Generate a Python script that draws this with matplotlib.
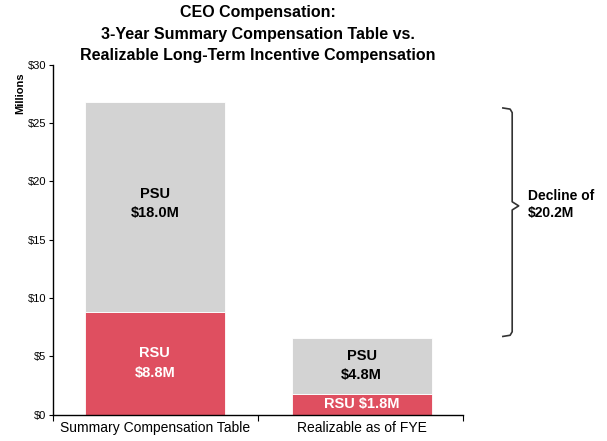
import matplotlib.pyplot as plt
from matplotlib.ticker import FixedLocator

plt.rcParams["font.family"] = ["Liberation Sans", "DejaVu Sans"]

categories = ["Summary Compensation Table", "Realizable as of FYE"]
rsu = [8.8, 1.8]
psu = [18.0, 4.8]
rsu_labels = ["RSU\n$8.8M", "RSU $1.8M"]
psu_labels = ["PSU\n$18.0M", "PSU\n$4.8M"]
yticks = [0, 5, 10, 15, 20, 25, 30]
decline = 20.2

red = "#DF4F60"
grey = "#D3D3D3"

fig = plt.figure(figsize=(6.07, 4.41), dpi=100)
ax = fig.add_axes([0.088, 0.06, 0.675, 0.793])

x = list(range(len(categories)))
width = 0.675
ax.bar(x, rsu, width, color=red, edgecolor="white", linewidth=0.6)
ax.bar(x, psu, width, bottom=rsu, color=grey, edgecolor="white", linewidth=0.6)

# segment labels
ax.text(0, rsu[0] / 2, rsu_labels[0], ha="center", va="center", color="white",
        fontsize=10.5, fontweight="bold", linespacing=1.5)
ax.text(1, rsu[1] / 2, rsu_labels[1], ha="center", va="center", color="white",
        fontsize=10.5, fontweight="bold")
ax.text(0, rsu[0] + psu[0] * 0.517, psu_labels[0], ha="center", va="center", color="black",
        fontsize=10.5, fontweight="bold", linespacing=1.5)
ax.text(1, rsu[1] + psu[1] / 2, psu_labels[1], ha="center", va="center", color="black",
        fontsize=10.5, fontweight="bold", linespacing=1.5)

ax.set_xlim(-0.49, 1.49)
ax.set_ylim(0, 30)
ax.set_yticks(yticks)
ax.set_yticklabels([f"${v}" for v in yticks], fontsize=8)
ax.tick_params(axis="y", length=3, width=0.8, pad=2)

ax.xaxis.set_major_locator(FixedLocator([-0.49, 0.5, 1.49]))
ax.set_xticklabels(["", "", ""])
ax.xaxis.set_minor_locator(FixedLocator(x))
ax.set_xticklabels(categories, minor=True, fontsize=10)
ax.tick_params(axis="x", which="major", length=4, width=0.8)
ax.tick_params(axis="x", which="minor", length=0, pad=5)

for s in ["top", "right"]:
    ax.spines[s].set_visible(False)
for s in ["left", "bottom"]:
    ax.spines[s].set_linewidth(1.0)

ax.text(-0.08, 0.977, "Millions", transform=ax.transAxes, rotation=90,
        ha="center", va="top", fontsize=8, fontweight="bold")

# brace showing the decline
top = 26.3
bot = 6.7
mid = 17.9
bx = 1.727
bw = 0.045
ax.plot([bx - bw, bx - 0.01, bx, bx, bx + bw * 0.7, bx, bx, bx - 0.01, bx - bw],
        [top, top - 0.1, top - 0.4, mid + 0.35, mid, mid - 0.35, bot + 0.4, bot + 0.1, bot],
        color="#333333", lw=1.2, clip_on=False)
ax.text(bx + 0.075, mid + 0.1, f"Decline of\n${decline}M", ha="left", va="center",
        fontsize=10, fontweight="bold", linespacing=1.25)

fig.text(0.425, 1 - 5 / 441, "CEO Compensation:\n3-Year Summary Compensation Table vs.\n"
         "Realizable Long-Term Incentive Compensation",
         ha="center", va="top", fontsize=11.5, fontweight="bold", linespacing=1.55)

fig.savefig("out.png", dpi=100)
